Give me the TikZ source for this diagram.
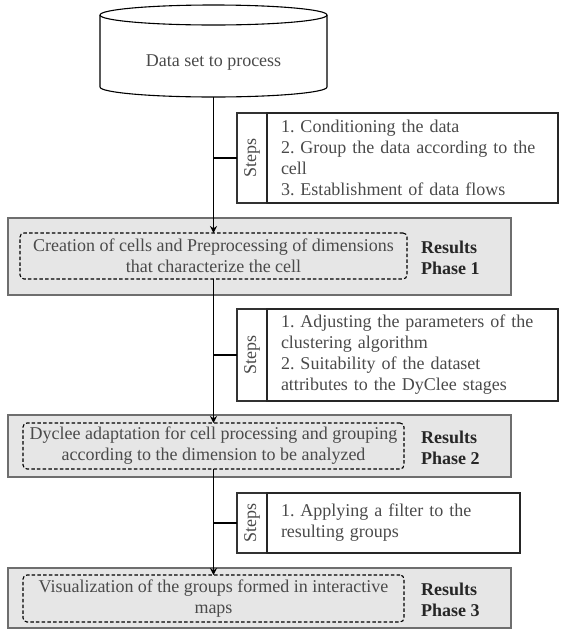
\documentclass[tikz,border=0pt]{standalone}
\usepackage{fontspec}
\setmainfont{Liberation Serif}
\usepackage{graphicx}
\usetikzlibrary{positioning,arrows.meta}
\definecolor{textgray}{HTML}{4A4A4A}
\definecolor{boxfill}{HTML}{E6E6E6}
\definecolor{boxline}{HTML}{6E6E6E}
\frenchspacing

\begin{document}
\begin{tikzpicture}[x=1pt,y=1pt]
  \tikzset{cylline/.style={draw=black,line width=1.1pt}}
  \tikzset{datanode/.style={inner sep=0pt,outer sep=0pt,text=textgray,font=\fontsize{18}{21}\selectfont}}
  \tikzset{steptag/.style={draw=black!80,line width=1.1pt,minimum width=30pt,inner sep=0pt,outer sep=0pt,text=textgray,font=\fontsize{18}{21}\selectfont}}
  \tikzset{steplist/.style={draw=black!85,line width=1.1pt,inner xsep=14pt,inner ysep=0pt,outer sep=0pt,align=left,text=textgray,font=\fontsize{18}{21}\selectfont}}
  \tikzset{phasebox/.style={draw=boxline,fill=boxfill,line width=1.5pt,minimum width=503pt,inner sep=0pt}}
  \tikzset{taskbox/.style={draw=black,dash pattern=on 3.5pt off 2.2pt,line width=1.1pt,rounded corners=4pt,inner sep=0pt,outer sep=0pt,align=center,text=textgray,font=\fontsize{18}{21}\selectfont}}
  \tikzset{resultlabel/.style={anchor=west,align=left,inner sep=0pt,text=black!85,font=\fontsize{18}{21}\selectfont\bfseries}}
  \tikzset{flowedge/.style={draw=black,line width=1.1pt}}
  \tikzset{flowarrow/.style={flowedge,-{Stealth[length=7pt,width=7pt]}}}

  \useasboundingbox (0,0) rectangle (562,-630);

  % data set (cylinder)
  \draw[cylline] (213.5,-15) ellipse [x radius=113.5, y radius=10];
  \draw[cylline] (100,-15) -- (100,-87) arc[start angle=180, end angle=360, x radius=113.5, y radius=10] -- (327,-15);
  \node[datanode,minimum width=227pt,minimum height=68pt] (data) at (213.5,-63) {Data set to process};

  % steps boxes
  \node[steptag,minimum height=90pt] (tagA) at (252,-158) {\rotatebox{90}{Steps}};
  \node[steplist,minimum height=90pt,text width=263pt,right=0pt of tagA] (listA)
    {1. Conditioning the data\\2. Group the data according to the\\cell\\3. Establishment of data flows};

  \node[steptag,minimum height=92pt] (tagB) at (252,-355) {\rotatebox{90}{Steps}};
  \node[steplist,minimum height=92pt,text width=263pt,right=0pt of tagB] (listB)
    {1. Adjusting the parameters of the\\clustering algorithm\\2. Suitability of the dataset\\attributes to the DyClee stages};

  \node[steptag,minimum height=60pt] (tagC) at (252,-523) {\rotatebox{90}{Steps}};
  \node[steplist,minimum height=60pt,text width=225pt,right=0pt of tagC] (listC)
    {1. Applying a filter to the\\resulting groups};

  % phases
  \node[phasebox,minimum height=77pt] (phaseA) at (259.5,-256.5) {};
  \node[taskbox,minimum width=387pt,minimum height=46pt] (taskA) at (213.5,-256)
    {Creation of cells and Preprocessing of dimensions\\that characterize the cell};
  \node[resultlabel] (resA) at (421,-258) {Results\\Phase 1};

  \node[phasebox,minimum height=62pt] (phaseB) at (259.5,-446) {};
  \node[taskbox,minimum width=381pt,minimum height=46pt] (taskB) at (213.5,-446)
    {Dyclee adaptation for cell processing and grouping\\according to the dimension to be analyzed};
  \node[resultlabel] (resB) at (421,-448) {Results\\Phase 2};

  \node[phasebox,minimum height=60pt] (phaseC) at (259.5,-598) {};
  \node[taskbox,minimum width=381pt,minimum height=47pt] (taskC) at (213.5,-598.5)
    {Visualization of the groups formed in interactive\\maps};
  \node[resultlabel] (resC) at (421,-600) {Results\\Phase 3};

  % connectors
  \draw[flowarrow] (data.south) -- (taskA.north);
  \draw[flowedge] (tagA.west) -- (tagA.west -| data.south);
  \draw[flowarrow] (taskA.south) -- (taskB.north);
  \draw[flowedge] (tagB.west) -- (tagB.west -| taskA.south);
  \draw[flowarrow] (taskB.south) -- (taskC.north);
  \draw[flowedge] (tagC.west) -- (tagC.west -| taskB.south);
\end{tikzpicture}
\end{document}
